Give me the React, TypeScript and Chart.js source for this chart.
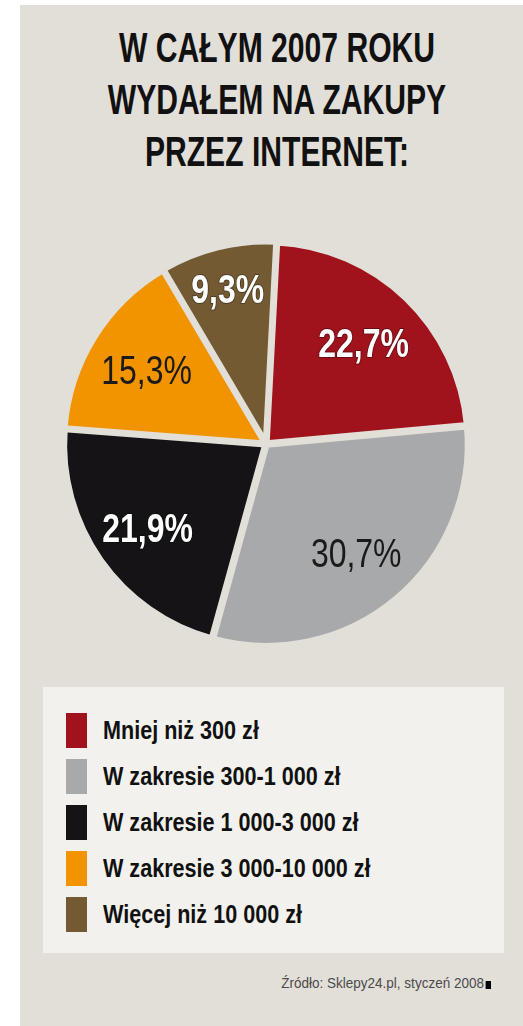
import React, { useEffect, useRef } from 'react';
import { Chart, registerables } from 'chart.js';

Chart.register(...registerables);

// ---- data ----
const titleLines = ['W CAŁYM 2007 ROKU', 'WYDAŁEM NA ZAKUPY', 'PRZEZ INTERNET:'];
const categories = [
  'Mniej niż 300 zł',
  'W zakresie 300-1 000 zł',
  'W zakresie 1 000-3 000 zł',
  'W zakresie 3 000-10 000 zł',
  'Więcej niż 10 000 zł',
];
const shares = [22.7, 30.7, 21.9, 15.3, 9.3];
const sourceNote = 'Źródło: Sklepy24.pl, styczeń 2008';

// ---- styles ----
const sliceColors = ['#a0121c', '#a8a9ab', '#151316', '#f29400', '#735a33'];
const labelColors = ['#ffffff', '#1a1a1a', '#ffffff', '#1a1a1a', '#ffffff'];
const labelWeights = ['bold', 'normal', 'bold', 'normal', 'bold'];
const labelRadiusFactors = [0.7, 0.7, 0.72, 0.7, 0.8];
const PANEL_BG = '#e2dfd8';
const LEGEND_BG = '#f2f1ed';
const SANS = '"Liberation Sans", Arial, Helvetica, sans-serif';

const formatShare = (v: number) => v.toFixed(1).replace('.', ',') + '%';

const sliceLabels = {
  id: 'sliceLabels',
  afterDatasetsDraw(chart: any) {
    const meta = chart.getDatasetMeta(0);
    const ctx = chart.ctx as CanvasRenderingContext2D;
    const size = 41;
    meta.data.forEach((arc: any, i: number) => {
      const p = arc.getProps(['x', 'y', 'startAngle', 'endAngle', 'outerRadius'], true);
      const mid = (p.startAngle + p.endAngle) / 2;
      const r = p.outerRadius * labelRadiusFactors[i];
      const px = p.x + Math.cos(mid) * r;
      const py = p.y + Math.sin(mid) * r;
      const text = formatShare(shares[i]);
      ctx.save();
      ctx.translate(px, py + size * 0.36);
      ctx.scale(0.78, 1);
      ctx.font = `${labelWeights[i]} ${size}px ${SANS}`;
      ctx.textAlign = 'center';
      ctx.textBaseline = 'alphabetic';
      if (labelColors[i] === '#ffffff') {
        ctx.lineWidth = 2;
        ctx.lineJoin = 'round';
        ctx.strokeStyle = 'rgba(0,0,0,0.35)';
        ctx.strokeText(text, 0, 0);
      }
      ctx.fillStyle = labelColors[i];
      ctx.fillText(text, 0, 0);
      ctx.restore();
    });
  },
};

export default function App() {
  const canvasRef = useRef<HTMLCanvasElement | null>(null);

  useEffect(() => {
    if (!canvasRef.current) return;
    const chart = new Chart(canvasRef.current, {
      type: 'pie',
      data: {
        labels: categories,
        datasets: [
          {
            data: shares,
            backgroundColor: sliceColors,
            borderColor: PANEL_BG,
            borderWidth: 6,
            offset: 4,
          },
        ],
      },
      options: {
        animation: false,
        responsive: true,
        maintainAspectRatio: false,
        rotation: 3,
        layout: { padding: { left: 40, top: 13, right: 51, bottom: 15 } },
        plugins: {
          legend: { display: false },
          title: { display: false },
          tooltip: { enabled: false },
        },
      },
      plugins: [sliceLabels],
    });
    return () => chart.destroy();
  }, []);

  return (
    <div
      style={{
        position: 'absolute',
        left: 20,
        top: 5,
        width: 503,
        height: 1021,
        background: PANEL_BG,
        overflow: 'hidden',
      }}
    >
      <div
        style={{
          position: 'absolute',
          left: 0,
          top: 16,
          width: 514,
          textAlign: 'center',
          fontFamily: SANS,
          fontWeight: 'bold',
          fontSize: 43,
          lineHeight: '52px',
          color: '#111111',
          transform: 'scaleX(0.70)',
          transformOrigin: '257px 0',
        }}
      >
        {titleLines.map((t) => (
          <div key={t}>{t}</div>
        ))}
      </div>

      <div style={{ position: 'absolute', left: 0, top: 220, width: 503, height: 440 }}>
        <canvas ref={canvasRef} />
      </div>

      <div
        style={{
          position: 'absolute',
          left: 23,
          top: 682,
          width: 461,
          height: 266,
          background: LEGEND_BG,
          boxSizing: 'border-box',
          paddingTop: 26,
          paddingLeft: 23,
        }}
      >
        {categories.map((c, i) => (
          <div
            key={c}
            style={{ display: 'flex', alignItems: 'center', height: 35, marginBottom: 11 }}
          >
            <div style={{ width: 21, height: 35, background: sliceColors[i], flex: 'none' }} />
            <div
              style={{
                marginLeft: 16,
                fontFamily: SANS,
                fontWeight: 'bold',
                fontSize: 26,
                color: '#111111',
                whiteSpace: 'nowrap',
                transform: 'scaleX(0.83)',
                transformOrigin: '0 50%',
              }}
            >
              {c}
            </div>
          </div>
        ))}
      </div>

      <div
        style={{
          position: 'absolute',
          right: 32,
          top: 969,
          fontFamily: SANS,
          fontSize: 15,
          color: '#4a4a4a',
          whiteSpace: 'nowrap',
          display: 'flex',
          alignItems: 'center',
          transform: 'scaleX(0.9)',
          transformOrigin: '100% 50%',
        }}
      >
        <span>{sourceNote}</span>
        <span
          style={{ display: 'inline-block', width: 6, height: 8, background: '#000', marginLeft: 2, marginTop: 4 }}
        />
      </div>
    </div>
  );
}
